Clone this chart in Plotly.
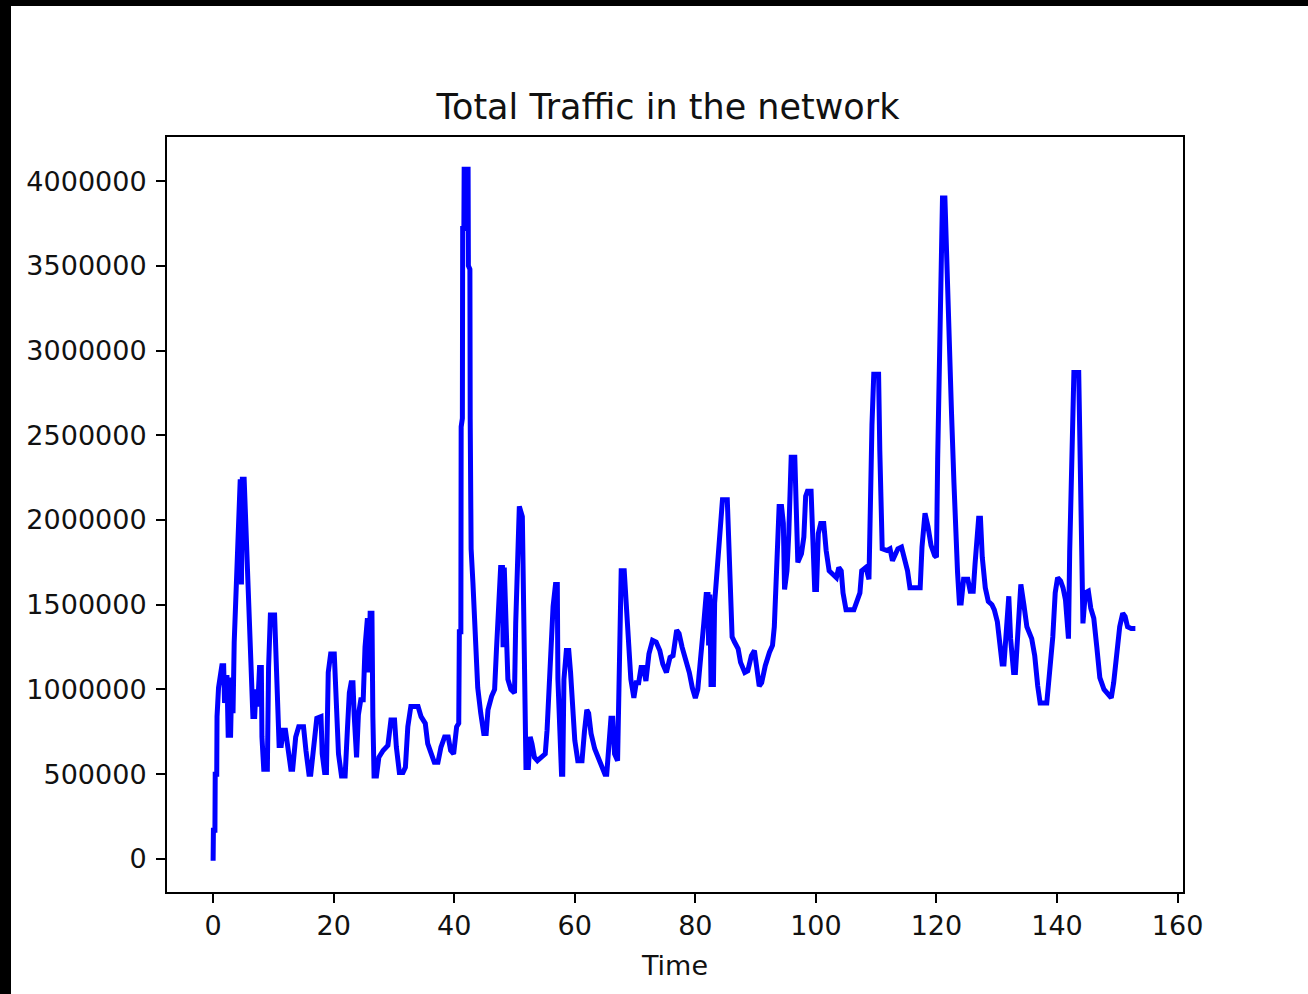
import plotly.graph_objects as go

# Time axis values and total traffic readings
time = [
    0.0, 0.05, 0.3, 0.35, 0.6, 0.65, 0.9, 1.2, 1.45, 1.75, 1.9, 2.1, 2.3, 2.5, 2.9, 3.1, 3.3, 3.5, 3.75, 4.0,
    4.25, 4.5, 4.7, 4.85, 5.15, 5.4, 5.7, 6.0, 6.3, 6.6, 6.9, 7.1, 7.4, 7.7, 8.0, 8.1, 8.4, 9.0, 9.2, 9.5,
    10.2, 10.45, 10.7, 10.95, 11.3, 11.6, 12.0, 12.4, 12.9, 13.2, 13.7, 14.2, 15.0, 15.4, 15.9, 16.2, 16.6, 17.2, 17.9, 18.1,
    18.5, 18.8, 19.1, 19.5, 20.1, 20.4, 20.8, 21.3, 21.9, 22.3, 22.6, 22.9, 23.2, 23.4, 23.8, 24.1, 24.5, 24.9, 25.2, 25.6,
    25.85, 26.05, 26.35, 26.5, 26.7, 27.1, 27.5, 28.2, 29.0, 29.5, 30.1, 30.4, 30.9, 31.5, 31.9, 32.3, 32.8, 34.0, 34.5, 35.2,
    35.6, 36.2, 36.7, 37.3, 37.8, 38.4, 39.0, 39.4, 39.9, 40.4, 40.75, 40.85, 41.1, 41.15, 41.35, 41.4, 41.6, 41.65, 42.3, 42.35,
    42.6, 42.65, 42.8, 43.1, 43.3, 43.5, 43.9, 44.4, 44.9, 45.3, 45.6, 46.2, 46.7, 47.0, 47.4, 47.7, 48.0, 48.1, 48.3, 48.5,
    48.9, 49.4, 50.0, 50.2, 50.5, 50.8, 51.3, 51.5, 51.7, 51.9, 52.3, 52.6, 52.9, 53.3, 53.8, 54.5, 55.1, 55.4, 55.8, 56.0,
    56.4, 56.8, 57.1, 57.2, 57.5, 57.8, 58.0, 58.2, 58.6, 59.0, 59.3, 59.6, 60.0, 60.5, 61.2, 61.6, 62.0, 62.3, 62.7, 63.3,
    63.8, 64.4, 65.0, 65.3, 65.6, 66.0, 66.3, 66.6, 67.1, 67.3, 67.5, 67.7, 68.2, 68.5, 68.8, 69.0, 69.3, 69.8, 70.2, 70.6,
    71.0, 71.4, 71.8, 72.3, 72.9, 73.5, 74.1, 74.6, 75.2, 75.8, 76.3, 76.9, 77.3, 77.8, 78.4, 79.0, 79.5, 80.0, 80.4, 80.7,
    81.0, 81.4, 81.8, 82.1, 82.2, 82.4, 82.6, 83.0, 83.2, 83.7, 84.2, 84.5, 85.3, 85.6, 85.8, 86.1, 86.5, 87.1, 87.5, 88.2,
    88.7, 89.3, 89.8, 90.2, 90.6, 91.0, 91.6, 92.3, 92.8, 93.1, 93.4, 93.7, 93.9, 94.3, 94.6, 94.8, 95.2, 95.5, 95.7, 95.9,
    96.5, 96.7, 97.0, 97.6, 98.0, 98.3, 98.6, 99.2, 99.5, 99.8, 100.1, 100.4, 100.8, 101.3, 101.7, 102.2, 102.8, 103.4, 103.8, 104.2,
    104.5, 105.0, 106.3, 106.8, 107.3, 107.6, 108.3, 108.8, 109.0, 109.3, 109.6, 110.4, 110.6, 110.8, 111.0, 111.8, 112.3, 112.7, 113.1, 113.6,
    114.2, 114.7, 115.2, 115.6, 117.3, 117.6, 118.1, 118.6, 119.1, 119.7, 120.0, 120.2, 120.5, 120.8, 121.0, 121.4, 121.6, 122.0, 122.2, 122.5,
    122.9, 123.2, 123.5, 123.8, 124.1, 124.5, 125.2, 125.6, 126.1, 126.4, 126.7, 127.0, 127.3, 127.6, 128.1, 128.6, 129.2, 129.6, 130.1, 130.5,
    130.9, 131.2, 131.6, 132.0, 132.3, 132.8, 133.1, 133.5, 134.0, 134.5, 135.0, 135.8, 136.3, 136.8, 137.2, 138.3, 138.6, 138.9, 139.3, 139.7,
    140.1, 140.6, 141.0, 141.4, 141.7, 141.9, 142.1, 142.4, 142.8, 143.6, 143.8, 144.0, 144.3, 144.7, 145.2, 145.6, 146.1, 146.6, 147.1, 147.8,
    148.6, 149.0, 149.4, 149.9, 150.4, 150.9, 151.3, 151.7, 152.3, 153.0,
]

traffic = [
    -10000, 170000, 170000, 500000, 500000, 840000, 1010000, 1070000, 1140000, 1140000, 920000, 1070000, 1070000, 730000, 730000, 1070000, 860000, 1280000, 1550000, 1850000,
    2160000, 2240000, 1620000, 2240000, 2240000, 1980000, 1630000, 1290000, 1110000, 840000, 840000, 1000000, 900000, 1130000, 1130000, 720000, 530000, 530000, 1130000, 1440000,
    1440000, 1180000, 940000, 670000, 670000, 760000, 760000, 640000, 530000, 530000, 720000, 780000, 780000, 640000, 500000, 500000, 660000, 830000, 840000, 620000,
    510000, 510000, 1100000, 1210000, 1210000, 900000, 620000, 490000, 490000, 780000, 980000, 1040000, 1040000, 850000, 600000, 850000, 940000, 940000, 1250000, 1420000,
    1100000, 1450000, 1450000, 840000, 490000, 490000, 600000, 640000, 670000, 820000, 820000, 660000, 510000, 510000, 540000, 780000, 900000, 900000, 840000, 800000,
    680000, 620000, 570000, 570000, 660000, 720000, 720000, 640000, 620000, 780000, 800000, 1340000, 1340000, 2550000, 2600000, 3720000, 3720000, 4070000, 4070000, 3500000,
    3480000, 2600000, 1830000, 1630000, 1450000, 1200000, 1010000, 860000, 740000, 740000, 880000, 960000, 1000000, 1230000, 1490000, 1720000, 1720000, 1250000, 1720000, 1490000,
    1060000, 1000000, 980000, 1390000, 1760000, 2080000, 2020000, 1490000, 960000, 540000, 540000, 720000, 680000, 600000, 580000, 600000, 620000, 760000, 1060000, 1270000,
    1490000, 1620000, 1620000, 1060000, 640000, 500000, 500000, 1060000, 1230000, 1230000, 1100000, 900000, 700000, 580000, 580000, 750000, 880000, 860000, 740000, 650000,
    600000, 540000, 500000, 500000, 700000, 830000, 830000, 620000, 580000, 960000, 1330000, 1700000, 1700000, 1500000, 1330000, 1170000, 1060000, 950000, 1040000, 1040000,
    1130000, 1130000, 1050000, 1210000, 1290000, 1280000, 1230000, 1150000, 1100000, 1190000, 1200000, 1350000, 1330000, 1250000, 1180000, 1100000, 1010000, 950000, 1000000, 1100000,
    1260000, 1390000, 1560000, 1560000, 1260000, 1560000, 1030000, 1030000, 1510000, 1780000, 1950000, 2120000, 2120000, 1860000, 1590000, 1310000, 1280000, 1240000, 1160000, 1100000,
    1110000, 1200000, 1230000, 1120000, 1020000, 1040000, 1140000, 1220000, 1260000, 1370000, 1650000, 1900000, 2080000, 2080000, 1980000, 1590000, 1700000, 1920000, 2250000, 2370000,
    2370000, 2040000, 1750000, 1800000, 1900000, 2140000, 2170000, 2170000, 1840000, 1590000, 1590000, 1920000, 1980000, 1980000, 1820000, 1700000, 1680000, 1660000, 1720000, 1700000,
    1570000, 1470000, 1470000, 1520000, 1570000, 1700000, 1720000, 1650000, 2150000, 2560000, 2860000, 2860000, 2410000, 2060000, 1830000, 1820000, 1830000, 1760000, 1800000, 1830000,
    1840000, 1770000, 1700000, 1600000, 1600000, 1840000, 2040000, 1960000, 1850000, 1790000, 1780000, 2360000, 3080000, 3810000, 3900000, 3900000, 3630000, 3330000, 3020000, 2630000,
    2220000, 1820000, 1690000, 1510000, 1510000, 1650000, 1650000, 1580000, 1580000, 1740000, 1880000, 2010000, 2010000, 1780000, 1600000, 1520000, 1500000, 1470000, 1400000, 1300000,
    1150000, 1150000, 1400000, 1550000, 1300000, 1100000, 1100000, 1400000, 1620000, 1500000, 1370000, 1300000, 1200000, 1020000, 920000, 920000, 1040000, 1160000, 1310000, 1570000,
    1660000, 1640000, 1600000, 1530000, 1300000, 1300000, 1810000, 2360000, 2870000, 2870000, 2360000, 1760000, 1390000, 1570000, 1580000, 1480000, 1420000, 1250000, 1070000, 1000000,
    960000, 950000, 1040000, 1210000, 1370000, 1450000, 1430000, 1370000, 1360000, 1360000,
]

x_ticks = [0, 20, 40, 60, 80, 100, 120, 140, 160]
y_ticks = [0, 500000, 1000000, 1500000, 2000000, 2500000, 3000000, 3500000, 4000000]

W, H = 1308, 994
ML, MR, MT, MB = 167, 125, 137, 102
PW, PH = W - ML - MR, H - MT - MB

FONT = "DejaVu Sans, Arial, sans-serif"

fig = go.Figure()
fig.add_trace(go.Scatter(
    x=time, y=traffic, mode="lines",
    line=dict(color="#0000ff", width=5),
    showlegend=False, hoverinfo="skip",
))

axis_common = dict(
    showline=True, linecolor="black", linewidth=2, mirror=True,
    ticks="outside", ticklen=9, tickwidth=2, tickcolor="black",
    showgrid=False, zeroline=False,
    tickfont=dict(family=FONT, size=27, color="#111111"),
)

fig.update_xaxes(
    range=[-7.65, 160.9], tickvals=x_ticks, ticktext=[str(v) for v in x_ticks],
    title=dict(text="Time", font=dict(family=FONT, size=27, color="#111111"), standoff=16),
    **axis_common,
)
fig.update_yaxes(
    range=[-195000, 4260000], tickvals=y_ticks, ticktext=[str(v) for v in y_ticks],
    ticklabelstandoff=4,
    **axis_common,
)

# black frame remnants of the screenshot (top and left edges)
def px_to_paper_x(px):
    return (px - ML) / PW

def py_to_paper_y(py):
    return (H - MB - py) / PH

fig.add_shape(type="rect", xref="paper", yref="paper",
              x0=px_to_paper_x(0), x1=px_to_paper_x(11),
              y0=py_to_paper_y(H), y1=py_to_paper_y(0),
              fillcolor="black", line=dict(width=0), layer="above")
fig.add_shape(type="rect", xref="paper", yref="paper",
              x0=px_to_paper_x(0), x1=px_to_paper_x(W),
              y0=py_to_paper_y(6), y1=py_to_paper_y(0),
              fillcolor="black", line=dict(width=0), layer="above")

fig.update_layout(
    width=W, height=H,
    margin=dict(l=ML, r=MR, t=MT, b=MB, pad=0),
    paper_bgcolor="white", plot_bgcolor="white",
    title=dict(text="Total Traffic in the network", x=px_to_paper_x(668), xref="paper",
               y=1 - 107 / H, yref="container", yanchor="middle", xanchor="center",
               font=dict(family=FONT, size=35, color="#111111")),
)

fig.write_html("out.html", config={"displayModeBar": False},
               post_script="document.body.style.margin='0';")
